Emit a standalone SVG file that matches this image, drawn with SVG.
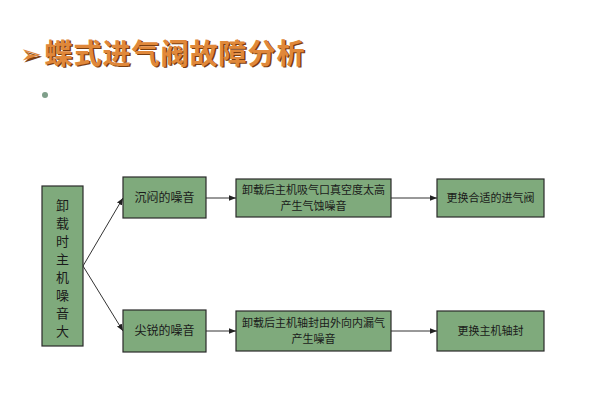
<svg xmlns="http://www.w3.org/2000/svg" width="594" height="400" viewBox="0 0 594 400">
<defs>
<style>
.box{fill:#7faa7c;stroke:#2a2a2a;stroke-width:1.2}
.t{font-family:"Noto Sans CJK SC","Noto Sans",sans-serif;fill:#1a1a1a;text-anchor:middle}
.ln{stroke:#333;stroke-width:1;fill:none;marker-end:url(#ah)}
.ttl{font-family:"Noto Sans CJK SC",sans-serif;font-weight:bold;font-size:28px;letter-spacing:1px}
.arw{font-family:"DejaVu Sans",sans-serif;font-weight:bold;font-size:26px}
</style>
<marker id="ah" viewBox="0 0 10 10" refX="10" refY="5" markerWidth="7" markerHeight="7" orient="auto" markerUnits="userSpaceOnUse">
<path d="M0,1 L10,5 L0,9 Z" fill="#222"/>
</marker>
</defs>
<rect width="594" height="400" fill="#ffffff"/>
<g id="title">
<text x="21.5" y="64.5" class="arw" fill="#7a3e10">➢</text>
<text x="20" y="63" class="arw" fill="#e0883a">➢</text>
<text x="46" y="65" class="ttl" fill="#7a3e10">蝶式进气阀故障分析</text>
<text x="44.5" y="63.5" class="ttl" fill="#e0883a">蝶式进气阀故障分析</text>
</g>
<circle cx="45" cy="95" r="3" fill="#7f9f8a"/>
<g id="connectors">
<line class="ln" x1="83" y1="266" x2="123" y2="198"/>
<line class="ln" x1="83" y1="266" x2="123" y2="331"/>
<line class="ln" x1="206" y1="198" x2="236" y2="198"/>
<line class="ln" x1="206" y1="331" x2="236" y2="331"/>
<line class="ln" x1="391" y1="198" x2="437" y2="198"/>
<line class="ln" x1="391" y1="331" x2="437" y2="331"/>
</g>
<g id="n1">
<rect class="box" x="42" y="186" width="41" height="160"/>
<text class="t" font-size="13"><tspan x="62.5" y="210">卸</tspan><tspan x="62.5" y="228">载</tspan><tspan x="62.5" y="246">时</tspan><tspan x="62.5" y="264">主</tspan><tspan x="62.5" y="282">机</tspan><tspan x="62.5" y="300">噪</tspan><tspan x="62.5" y="318">音</tspan><tspan x="62.5" y="336">大</tspan></text>
</g>
<g id="n2">
<rect class="box" x="123" y="177" width="83" height="41"/>
<text class="t" font-size="12" x="164.5" y="202">沉闷的噪音</text>
</g>
<g id="n3">
<rect class="box" x="123" y="310" width="83" height="42"/>
<text class="t" font-size="12" x="164.5" y="335">尖锐的噪音</text>
</g>
<g id="n4">
<rect class="box" x="236" y="179" width="155" height="38"/>
<text class="t" font-size="11"><tspan x="313.5" y="194">卸载后主机吸气口真空度太高</tspan><tspan x="313.5" y="210">产生气蚀噪音</tspan></text>
</g>
<g id="n5">
<rect class="box" x="236" y="311" width="155" height="40"/>
<text class="t" font-size="11"><tspan x="313.5" y="327">卸载后主机轴封由外向内漏气</tspan><tspan x="313.5" y="343">产生噪音</tspan></text>
</g>
<g id="n6">
<rect class="box" x="437" y="179" width="107" height="38"/>
<text class="t" font-size="11" x="490.5" y="202">更换合适的进气阀</text>
</g>
<g id="n7">
<rect class="box" x="437" y="311" width="107" height="40"/>
<text class="t" font-size="11" x="490.5" y="335">更换主机轴封</text>
</g>
</svg>
